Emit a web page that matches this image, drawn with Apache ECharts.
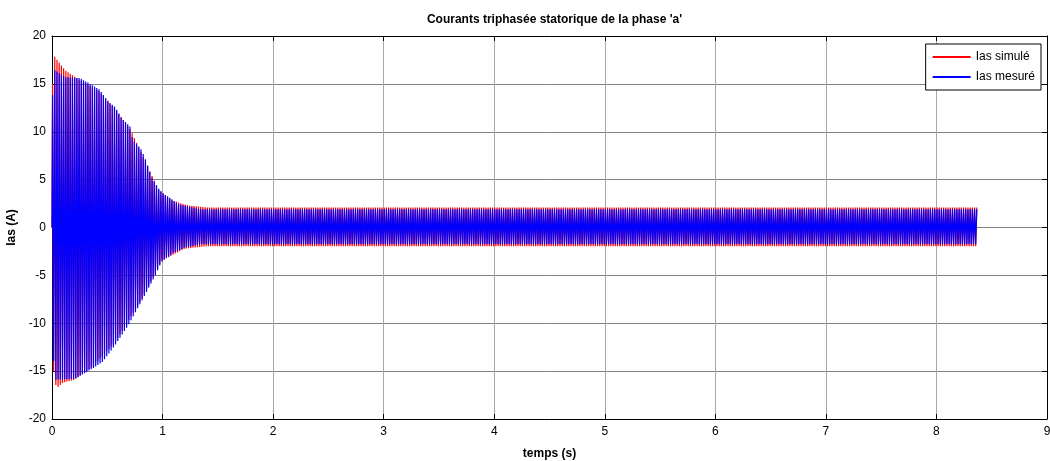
<!DOCTYPE html>
<html>
<head>
<meta charset="utf-8">
<script src="https://cdn.jsdelivr.net/npm/echarts@6/dist/echarts.min.js"></script>
<style>html,body{margin:0;padding:0;background:#fff}#c{width:1050px;height:461px}</style>
</head>
<body>
<div id="c"></div>
<script>
// Envelope values (time in s, current in A)
const redUpperT = [0, 0.02, 0.06, 0.12, 0.25, 0.43, 0.57, 0.71, 0.84, 0.96, 1.09, 1.23, 1.40, 8.37];
const redUpperV = [14, 17.9, 17.3, 16.4, 15.4, 14.2, 12.4, 10.2, 7.0, 4.0, 2.8, 2.3, 2.1, 2.1];
const redLowerT = [0, 0.04, 0.10, 0.20, 0.37, 0.57, 0.81, 0.99, 1.20, 1.40, 8.37];
const redLowerV = [-14, -16.8, -16.2, -15.9, -14.5, -12.0, -7.5, -3.5, -2.2, -1.95, -1.95];
const blueUpperT = [0, 0.02, 0.07, 0.12, 0.25, 0.33, 0.43, 0.51, 0.57, 0.63, 0.71, 0.73, 0.80, 0.84, 0.90, 0.96, 1.00, 1.09, 1.14, 1.23, 1.35, 8.37];
const blueUpperV = [13, 16.5, 16.1, 15.7, 15.6, 15.1, 14.4, 13.1, 12.6, 11.4, 10.5, 9.1, 8.3, 7.3, 5.3, 4.1, 3.6, 2.9, 2.45, 2.2, 1.9, 1.9];
const blueLowerT = [0, 0.03, 0.21, 0.37, 0.46, 0.57, 0.69, 0.81, 0.93, 0.99, 1.09, 1.20, 1.35, 8.37];
const blueLowerV = [-12, -15.9, -15.8, -14.7, -14.0, -12.3, -10.2, -7.7, -5.1, -3.6, -2.7, -2.1, -1.75, -1.75];
const halfPeriod = 0.01;   // 50 Hz supply
const tEnd = 8.37;
const xTicks = [0, 1, 2, 3, 4, 5, 6, 7, 8, 9];
const yTicks = [-20, -15, -10, -5, 0, 5, 10, 15, 20];

function envAt(T, V, t) {
  for (let i = 1; i < T.length; i++) {
    if (t <= T[i]) {
      const f = (t - T[i-1]) / (T[i] - T[i-1]);
      return V[i-1] + f * (V[i] - V[i-1]);
    }
  }
  return V[V.length - 1];
}
function peaks(uT, uV, lT, lV, offset) {
  const pts = [[0, 0]];
  let k = 0;
  for (let t = offset; t <= tEnd; t += halfPeriod, k++) {
    const v = (k % 2 === 0) ? envAt(uT, uV, t) : envAt(lT, lV, t);
    pts.push([+t.toFixed(4), v]);
  }
  return pts;
}
const redData = peaks(redUpperT, redUpperV, redLowerT, redLowerV, 0.005);
const blueData = peaks(blueUpperT, blueUpperV, blueLowerT, blueLowerV, 0.005);

const font = "'Liberation Sans', Arial, sans-serif";
const chart = echarts.init(document.getElementById('c'), null, {renderer: 'canvas'});
chart.setOption({
  animation: false,
  backgroundColor: '#fff',
  title: {
    text: "Courants triphasée statorique de la phase 'a'",
    left: 549.5, textAlign: 'center', top: 9,
    textStyle: {fontFamily: font, fontSize: 12, fontWeight: 'bold', color: '#000'}
  },
  grid: {left: 52, right: 3, top: 36, bottom: 42, containLabel: false, outerBoundsMode: 'none'},
  legend: {
    right: 9, top: 44, orient: 'vertical',
    backgroundColor: '#fff', borderColor: '#000', borderWidth: 1,
    padding: [7, 6, 7, 7], itemGap: 8,
    itemWidth: 38, itemHeight: 2, icon: 'rect',
    textStyle: {fontFamily: font, fontSize: 12, color: '#000'},
    data: ['Ias simulé', 'Ias mesuré']
  },
  xAxis: [{
    type: 'value', min: 0, max: 9, interval: 1, position: 'bottom',
    name: 'temps (s)', nameLocation: 'middle', nameGap: 29,
    nameTextStyle: {fontFamily: font, fontSize: 12, fontWeight: 'bold', color: '#000'},
    axisLine: {show: true, onZero: false, lineStyle: {color: '#000', width: 1}},
    axisTick: {show: true, inside: true, length: 5, lineStyle: {color: '#000'}},
    axisLabel: {fontFamily: font, fontSize: 12, color: '#000', margin: 7,
      formatter: v => xTicks.includes(v) ? String(v) : ''},
    splitLine: {show: true, lineStyle: {color: '#a8a8a8', width: 1}}
  }, {
    type: 'value', min: 0, max: 9, interval: 1, position: 'top',
    axisLine: {show: true, onZero: false, lineStyle: {color: '#000', width: 1}},
    axisTick: {show: true, inside: true, length: 5, lineStyle: {color: '#000'}},
    axisLabel: {show: false}, splitLine: {show: false}
  }],
  yAxis: [{
    type: 'value', min: -20, max: 20, interval: 5, position: 'left',
    name: 'Ias (A)', nameLocation: 'middle', nameGap: 25, nameRotate: 90,
    nameTextStyle: {fontFamily: font, fontSize: 12, fontWeight: 'bold', color: '#000'},
    axisLine: {show: true, onZero: false, lineStyle: {color: '#000', width: 1}},
    axisTick: {show: true, inside: true, length: 5, lineStyle: {color: '#000'}},
    axisLabel: {fontFamily: font, fontSize: 12, color: '#000', margin: 6,
      formatter: v => yTicks.includes(v) ? String(v) : ''},
    splitLine: {show: true, lineStyle: {color: '#808080', width: 1}}
  }, {
    type: 'value', min: -20, max: 20, interval: 5, position: 'right',
    axisLine: {show: true, onZero: false, lineStyle: {color: '#000', width: 1}},
    axisTick: {show: true, inside: true, length: 5, lineStyle: {color: '#000'}},
    axisLabel: {show: false}, splitLine: {show: false}
  }],
  series: [{
    name: 'Ias simulé', type: 'line', data: redData, showSymbol: false, symbol: 'none',
    lineStyle: {color: '#ff0000', width: 1.2}, itemStyle: {color: '#ff0000'},
    sampling: null, progressive: 0, z: 2
  }, {
    name: 'Ias mesuré', type: 'line', data: blueData, showSymbol: false, symbol: 'none',
    lineStyle: {color: '#0000ff', width: 1.2}, itemStyle: {color: '#0000ff'},
    sampling: null, progressive: 0, z: 3
  }]
});
</script>
</body>
</html>
